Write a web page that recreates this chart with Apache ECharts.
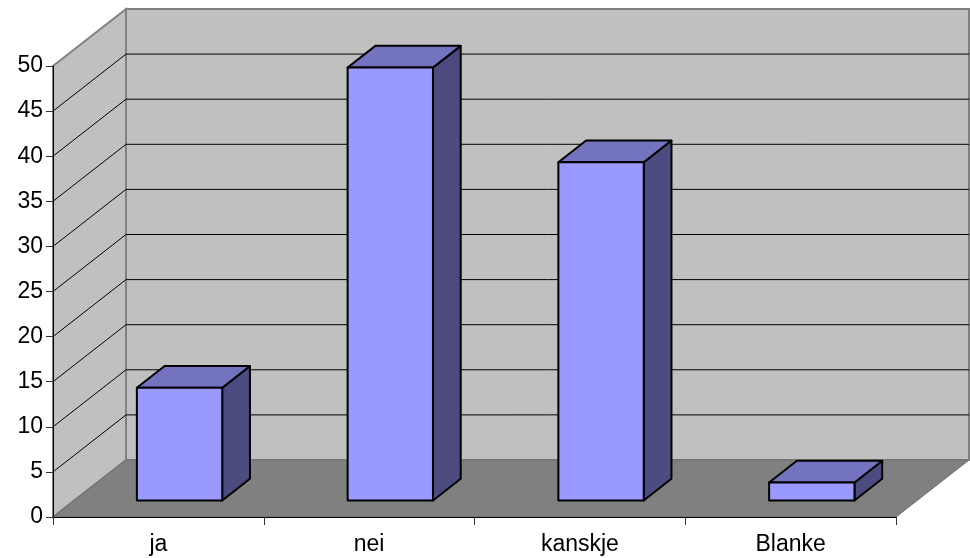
<!DOCTYPE html>
<html>
<head>
<meta charset="utf-8">
<script src="https://cdn.jsdelivr.net/npm/echarts@6/dist/echarts.min.js"></script>
<style>
  html, body { margin: 0; padding: 0; background: #ffffff; }
  #chart { width: 970px; height: 558px; }
</style>
</head>
<body>
<div id="chart"></div>
<script>
// Answer categories and their shares (percent)
var categories = ['ja', 'nei', 'kanskje', 'Blanke'];
var shares = [12.5, 48, 37.5, 2];
// Value-axis ticks, also used for the wall gridlines
var yTicks = [0, 5, 10, 15, 20, 25, 30, 35, 40, 45, 50];

// Oblique depth of the 3D box (pixels) and bar placement within the depth
var DEPTH = [73, -57];
var BAR_FRONT = 0.29, BAR_BACK = 0.67, BAR_WIDTH = 0.405;
var FONT = 'Liberation Sans, Arial, sans-serif';

var chart = echarts.init(document.getElementById('chart'));

function frame(params, api) {
  var band = api.size([1, 0])[0];
  var c0 = api.coord([0, 0]);
  var left = c0[0] - band / 2;
  var right = left + band * categories.length;
  var y0 = c0[1];
  var yTop = api.coord([0, yTicks[yTicks.length - 1]])[1];
  var dx = DEPTH[0], dy = DEPTH[1];
  var children = [];
  // back wall
  children.push({ type: 'polygon', shape: { points: [
      [left + dx, yTop + dy], [right + dx, yTop + dy], [right + dx, y0 + dy], [left + dx, y0 + dy]] },
    style: { fill: '#C0C0C0', stroke: '#808080', lineWidth: 2 } });
  // left side wall
  children.push({ type: 'polygon', shape: { points: [
      [left, yTop], [left + dx, yTop + dy], [left + dx, y0 + dy], [left, y0]] },
    style: { fill: '#C0C0C0', stroke: '#808080', lineWidth: 2 } });
  // floor
  children.push({ type: 'polygon', shape: { points: [
      [left, y0], [right, y0], [right + dx, y0 + dy], [left + dx, y0 + dy]] },
    style: { fill: '#808080', stroke: '#6f6f6f', lineWidth: 1 } });
  // gridlines on side and back walls
  for (var k = 1; k < yTicks.length - 1; k++) {
    var y = api.coord([0, yTicks[k]])[1];
    children.push({ type: 'polyline', shape: { points: [
        [left, y], [left + dx, y + dy], [right + dx, y + dy]] },
      style: { fill: null, stroke: '#000000', lineWidth: 1 } });
  }
  return { type: 'group', children: children };
}

function bar3d(params, api) {
  var i = api.value(0), v = api.value(1);
  var band = api.size([1, 0])[0];
  var top = api.coord([i, v]);
  var base = api.coord([i, 0]);
  var w = band * BAR_WIDTH;
  var xL = top[0] - w / 2, xR = top[0] + w / 2;
  var yT = top[1], yB = base[1];
  var ax = BAR_FRONT * DEPTH[0], ay = BAR_FRONT * DEPTH[1];
  var bx = BAR_BACK * DEPTH[0], by = BAR_BACK * DEPTH[1];
  var edge = { stroke: '#000000', lineWidth: 2, lineJoin: 'round' };
  return { type: 'group', children: [
    { type: 'polygon', shape: { points: [
        [xR + ax, yT + ay], [xR + bx, yT + by], [xR + bx, yB + by], [xR + ax, yB + ay]] },
      style: Object.assign({ fill: '#4B4B7F' }, edge) },
    { type: 'polygon', shape: { points: [
        [xL + ax, yT + ay], [xR + ax, yT + ay], [xR + bx, yT + by], [xL + bx, yT + by]] },
      style: Object.assign({ fill: '#7373BF' }, edge) },
    { type: 'rect', shape: { x: xL + ax, y: yT + ay, width: w, height: yB - yT },
      style: Object.assign({ fill: '#9999FF' }, edge) }
  ] };
}

chart.setOption({
  animation: false,
  backgroundColor: '#ffffff',
  grid: { left: 53, right: 74, top: 66, bottom: 41, containLabel: false },
  xAxis: {
    type: 'category',
    data: categories,
    boundaryGap: true,
    axisLine: { show: true, lineStyle: { color: '#000000', width: 1 } },
    axisTick: { show: true, length: 8, lineStyle: { color: '#333333' } },
    axisLabel: { color: '#000000', fontSize: 23, fontFamily: FONT, margin: 16 },
    splitLine: { show: false },
    z: 10
  },
  yAxis: {
    type: 'value',
    min: yTicks[0],
    max: yTicks[yTicks.length - 1],
    interval: yTicks[1] - yTicks[0],
    axisLine: { show: true, lineStyle: { color: '#000000', width: 1 } },
    axisTick: { show: true, length: 7, lineStyle: { color: '#333333' } },
    axisLabel: { color: '#000000', fontSize: 23, fontFamily: FONT, margin: 10 },
    splitLine: { show: false },
    z: 10
  },
  series: [
    {
      type: 'custom',
      name: 'frame',
      silent: true,
      clip: false,
      z: 1,
      renderItem: frame,
      data: [[0, 0]]
    },
    {
      type: 'custom',
      name: 'Andel',
      clip: false,
      z: 5,
      renderItem: bar3d,
      encode: { x: 0, y: 1 },
      data: categories.map(function (c, i) { return [i, shares[i]]; })
    }
  ]
});
</script>
</body>
</html>
